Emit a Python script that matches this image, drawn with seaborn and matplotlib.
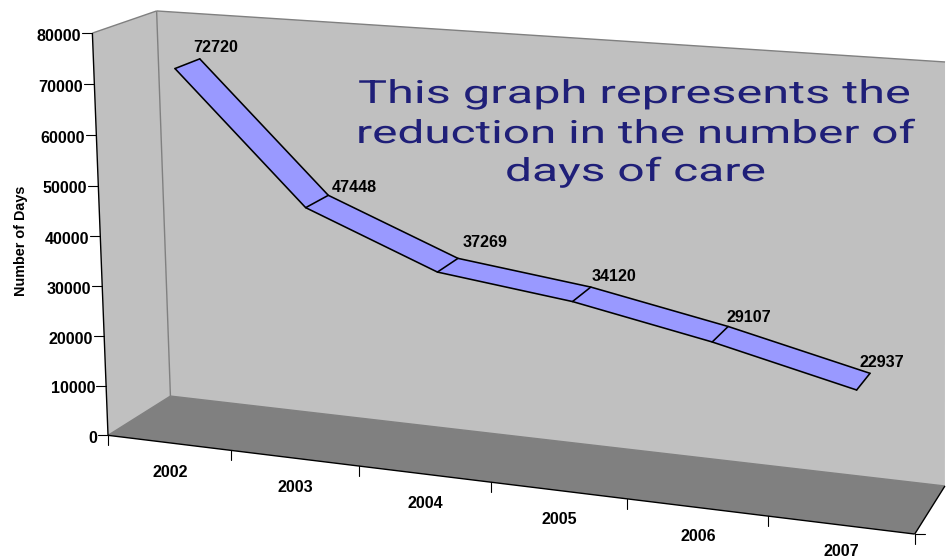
import numpy as np
import pandas as pd
import matplotlib
matplotlib.use("Agg")
import matplotlib.pyplot as plt
import matplotlib.patheffects as pe
from matplotlib.transforms import Transform, Affine2D
import seaborn as sns

# ---- data ----
years = ["2002", "2003", "2004", "2005", "2006", "2007"]
days = [72720, 47448, 37269, 34120, 29107, 22937]
y_ticks = [0, 10000, 20000, 30000, 40000, 50000, 60000, 70000, 80000]
y_title = "Number of Days"
note_lines = ["This graph represents the", "reduction in the number of", "days of care"]

# ---- layout ----
W, H = 951, 558
YMAX = 80000
WALL, FLOOR, EDGE, RIBBON, NOTE = "#c0c0c0", "#808080", "#808080", "#9999ff", "#1f1f78"
RIB_FRONT, RIB_BACK = 0.26, 0.66
RIB_START, RIB_STEP = 0.52, 1.006
# box calibration: (category position, value, depth) -> canvas pixel
calib = [
    ((0, 0, 0), (108, 435)), ((6, 0, 0), (915, 534)), ((0, YMAX, 0), (92, 33)),
    ((0, 0, 1), (170, 396)), ((6, 0, 1), (945, 486)), ((0, YMAX, 1), (157, 11)),
    ((6, YMAX, 1), (945, 62)),
    ((1, 0, 0), (232, 451)), ((2, 0, 0), (359, 466)), ((3, 0, 0), (490, 482)),
    ((4, 0, 0), (627, 499)), ((5, 0, 0), (768, 516)),
]
label_offsets = [(16, -11), (26, -8), (27, -16), (23, -11), (21, -9), (12, -11)]
note_boxes = [(358, 103, 555), (356, 143, 561), (505, 181, 262)]
LABEL_PT = 11.6


def fit_camera(pairs):
    rows = []
    for (u, v, w), (x, y) in pairs:
        X = [u, v / YMAX, w, 1]
        rows.append(X + [0, 0, 0, 0] + [-x * c for c in X])
        rows.append([0, 0, 0, 0] + X + [-y * c for c in X])
    return np.linalg.svd(np.array(rows, float))[2][-1].reshape(3, 4)


CAM = fit_camera(calib)


def project(u, v, w):
    u, v = np.asarray(u, float), np.asarray(v, float)
    X = np.stack([u, v / YMAX, np.full_like(u, w), np.ones_like(u)])
    p = CAM @ X
    return p[0] / p[2], p[1] / p[2]


class DepthPlane(Transform):
    """(category position, value) on a plane of fixed depth -> canvas pixels."""
    input_dims = output_dims = 2
    is_separable = False
    has_inverse = False

    def __init__(self, plane_depth):
        super().__init__()
        self.plane_depth = plane_depth

    def transform_non_affine(self, values):
        values = np.asarray(values, float)
        return np.column_stack(project(values[:, 0], values[:, 1], self.plane_depth))


class StretchX(pe.AbstractPathEffect):
    """Widen the glyphs from the text's left anchor (extended typeface look)."""

    def __init__(self, sx):
        super().__init__()
        self.sx = sx

    def draw_path(self, renderer, gc, tpath, affine, rgbFace=None):
        renderer.draw_path(gc, tpath, Affine2D().scale(self.sx, 1) + affine, rgbFace)


sns.set_theme(style="white")
plt.rcParams["font.family"] = ["Liberation Sans", "DejaVu Sans"]

fig = plt.figure(figsize=(W / 100, H / 100), dpi=100, facecolor="white")
ax = fig.add_axes([0, 0, 1, 1])
ax.set_xlim(0, W)
ax.set_ylim(H, 0)
ax.axis("off")
ax.autoscale(False)


def box_poly(pts, **kw):
    xs, ys = zip(*[project(np.array(p[0], float), np.array(p[1], float), p[2]) for p in pts])
    ax.fill(xs, ys, **kw)


def seg(a, b, **kw):
    pa, pb = project(np.array(a[0], float), np.array(a[1], float), a[2]), project(
        np.array(b[0], float), np.array(b[1], float), b[2])
    ax.plot([pa[0], pb[0]], [pa[1], pb[1]], solid_capstyle="butt", **kw)


n = len(years)
# walls and floor
box_poly([(0, 0, 0), (0, YMAX, 0), (0, YMAX, 1), (0, 0, 1)], fc=WALL, ec="none", zorder=1)
box_poly([(0, 0, 1), (0, YMAX, 1), (n, YMAX, 1), (n, 0, 1)], fc=WALL, ec="none", zorder=1)
box_poly([(0, 0, 0), (0, 0, 1), (n, 0, 1), (n, 0, 0)], fc=FLOOR, ec="none", zorder=1)
for a, b in [((0, YMAX, 0), (0, YMAX, 1)), ((0, YMAX, 1), (n, YMAX, 1)),
             ((0, YMAX, 1), (0, 0, 1)), ((0, 0, 1), (n, 0, 1)), ((0, 0, 0), (0, 0, 1))]:
    seg(a, b, color=EDGE, lw=1.0, zorder=2)
for a, b in [((0, YMAX, 0), (0, 0, 0)), ((0, 0, 0), (n, 0, 0)), ((n, 0, 0), (n, 0, 1))]:
    seg(a, b, color="black", lw=1.0, zorder=3)

# value axis ticks and labels
for t in y_ticks:
    x, y = project(np.array(0.0), np.array(float(t)), 0)
    ax.plot([x - 10, x], [y, y], color="black", lw=0.8, zorder=3)
    ax.text(x - 11, y + 3, str(t), ha="right", va="center", fontsize=LABEL_PT, fontweight="bold",
            color="black", zorder=4)

# category ticks and labels
for i in range(n + 1):
    x, y = project(np.array(float(i)), np.array(0.0), 0)
    ax.plot([x, x], [y, y + 10], color="black", lw=0.8, zorder=3)
    if i == n:
        ax.plot([x, x + 10], [y, y], color="black", lw=0.8, zorder=3)
centers = np.arange(n) + 0.5
for p, lab in zip(centers, years):
    x, y = project(np.array(p), np.array(0.0), 0)
    ax.text(x + 1, min(y + 29.5, H - 6), lab, ha="center", va="center", fontsize=LABEL_PT,
            fontweight="bold", color="black", zorder=4)

ax.text(21, 241, y_title, rotation=90, ha="center", va="center", fontsize=10.4,
        fontweight="bold", color="black")

# ribbon
pos = RIB_START + RIB_STEP * np.arange(n)
xf, yf = project(pos, np.array(days, float), RIB_FRONT)
xb, yb = project(pos, np.array(days, float), RIB_BACK)
ax.fill(np.r_[xf, xb[::-1]], np.r_[yf, yb[::-1]], fc=RIBBON, ec="none", zorder=5)
df = pd.DataFrame({"pos": pos, "days": days})
for plane in (RIB_FRONT, RIB_BACK):
    sns.lineplot(data=df, x="pos", y="days", sort=False, estimator=None, ax=ax, color="black",
                 lw=1.15, legend=False, zorder=6, transform=DepthPlane(plane) + ax.transData)
for a, b, c, d in zip(xf, yf, xb, yb):
    ax.plot([a, c], [b, d], color="black", lw=1.15, zorder=6, solid_capstyle="round")

# data labels
for x, y, d, (dx, dy) in zip(xb, yb, days, label_offsets):
    ax.text(x + dx, y + dy, str(d), ha="center", va="center", fontsize=LABEL_PT, fontweight="bold",
            color="black", zorder=7)

ax.set_xlim(0, W)
ax.set_ylim(H, 0)
ax.set_xlabel("")
ax.set_ylabel("")

# annotation, widened to the reference's extended typeface
fig.canvas.draw()
rend = fig.canvas.get_renderer()
for line, (x, y, width) in zip(note_lines, note_boxes):
    t = ax.text(x, y, line, ha="left", va="baseline", fontsize=23, color=NOTE, zorder=8,
                family=["Roboto", "Liberation Sans"], fontweight="normal")
    t.set_path_effects([StretchX(width / t.get_window_extent(rend).width)])

fig.savefig("out.png", dpi=100, facecolor="white")
